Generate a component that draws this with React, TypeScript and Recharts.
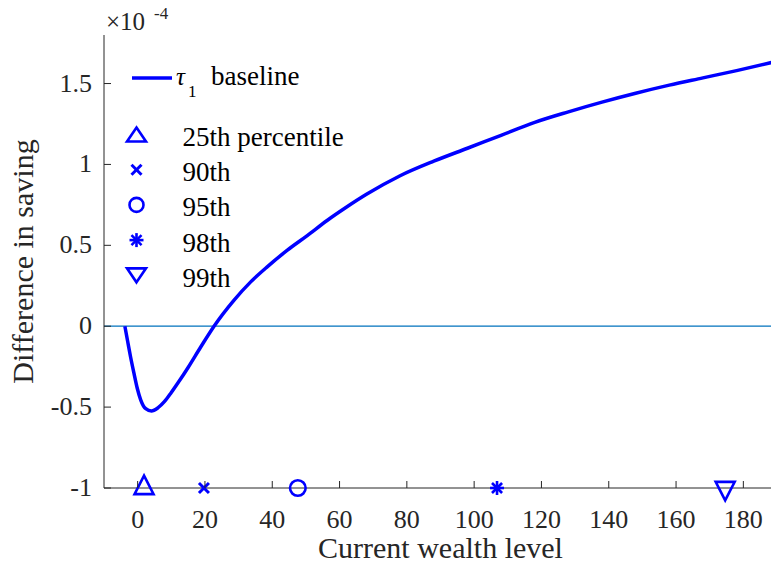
import React from 'react';
import { ComposedChart, Line, Scatter, XAxis, YAxis, ReferenceLine, Legend } from 'recharts';

// difference in saving, in units of 1e-4
const wealth = [-3.8, -3, -2.1, -1.1, -0.1, 0.9, 2.4, 4.1, 6, 8, 10, 12, 15, 18.7, 22.7, 28.6, 33.6, 38.5, 44.5, 50.4, 56.4, 62, 68, 78, 88, 98, 108, 118, 128, 138, 148, 158, 168, 178, 190];
const savingDiff = [0, -0.09, -0.19, -0.29, -0.385, -0.455, -0.51, -0.524, -0.505, -0.465, -0.41, -0.35, -0.255, -0.13, 0, 0.16, 0.274, 0.367, 0.47, 0.56, 0.655, 0.735, 0.815, 0.93, 1.02, 1.1, 1.18, 1.26, 1.325, 1.385, 1.44, 1.49, 1.535, 1.58, 1.638];

const percentileLabels = ['25th percentile', '90th', '95th', '98th', '99th'];
const percentileWealth = [1.9, 19.7, 47.6, 106.8, 174.6];
const percentileMarkers = ['triangle', 'cross', 'circle', 'asterisk', 'triangleDown'];
const markerLevel = -1;

const xTicks = [0, 20, 40, 60, 80, 100, 120, 140, 160, 180];
const yTicks = [-1, -0.5, 0, 0.5, 1, 1.5];

const curveData = wealth.map((x, i) => ({ x, y: savingDiff[i] }));

const BLUE = '#0000FF';
const AXIS = '#262626';
const FONT = 'Liberation Serif';
const TICK_LEN = 7;

// serif text, font set both as attribute and inline style
const serif = (size: number) => ({
  fontFamily: FONT,
  fontSize: size,
  style: { fontFamily: '"Liberation Serif", "Times New Roman", serif', fontSize: `${size}px` },
});

const drawMarker = (kind: string, cx: number, cy: number, small = false) => {
  const sw = 2.6;
  const hw = 9.5;
  const h = small ? 14 : 18.5;
  switch (kind) {
    case 'triangle':
      return (
        <polygon
          points={`${cx},${cy - (2 * h) / 3} ${cx + hw},${cy + h / 3} ${cx - hw},${cy + h / 3}`}
          fill="none" stroke={BLUE} strokeWidth={sw}
        />
      );
    case 'triangleDown':
      return (
        <polygon
          points={`${cx},${cy + (2 * h) / 3} ${cx + hw},${cy - h / 3} ${cx - hw},${cy - h / 3}`}
          fill="none" stroke={BLUE} strokeWidth={sw}
        />
      );
    case 'circle':
      return <circle cx={cx} cy={cy} r={small ? 7 : 7.8} fill="none" stroke={BLUE} strokeWidth={sw} />;
    case 'cross': {
      const a = 5;
      return (
        <g stroke={BLUE} strokeWidth={3}>
          <line x1={cx - a} y1={cy - a} x2={cx + a} y2={cy + a} />
          <line x1={cx - a} y1={cy + a} x2={cx + a} y2={cy - a} />
        </g>
      );
    }
    default: {
      const r = 7;
      const d = r * 0.72;
      return (
        <g stroke={BLUE} strokeWidth={2.6}>
          <line x1={cx} y1={cy - r} x2={cx} y2={cy + r} />
          <line x1={cx - r} y1={cy} x2={cx + r} y2={cy} />
          <line x1={cx - d} y1={cy - d} x2={cx + d} y2={cy + d} />
          <line x1={cx - d} y1={cy + d} x2={cx + d} y2={cy - d} />
        </g>
      );
    }
  }
};

const BottomTick = ({ x, y, payload }: any) => (
  <g>
    <line x1={x} x2={x} y1={y} y2={y - TICK_LEN} stroke={AXIS} />
    <text x={x} y={y + 40} textAnchor="middle" fill={AXIS} {...serif(26)}>
      {payload.value}
    </text>
  </g>
);

const TopTick = ({ x, y }: any) => <line x1={x} x2={x} y1={y} y2={y + TICK_LEN} stroke={AXIS} />;

const LeftTick = ({ x, y, payload }: any) => (
  <g>
    <line x1={x} x2={x + TICK_LEN} y1={y} y2={y} stroke={AXIS} />
    <text x={x - 12} y={y + 8} textAnchor="end" fill={AXIS} {...serif(26)}>
      {String(payload.value)}
    </text>
  </g>
);

const RightTick = ({ x, y }: any) => <line x1={x - TICK_LEN} x2={x} y1={y} y2={y} stroke={AXIS} />;

const YLabel = ({ viewBox }: any) => {
  const cy = viewBox.y + viewBox.height / 2;
  return (
    <g>
      <text x={33} y={cy} transform={`rotate(-90, 33, ${cy})`} textAnchor="middle" fill={AXIS} {...serif(30)}>
        Difference in saving
      </text>
      <text x={106} y={30} fill={AXIS} {...serif(25)}>×10</text>
      <text x={154} y={19} fill={AXIS} {...serif(17)}>-4</text>
    </g>
  );
};

const XLabel = ({ viewBox }: any) => (
  <text x={viewBox.x + viewBox.width / 2} y={558} textAnchor="middle" fill={AXIS} {...serif(30)}>
    Current wealth level
  </text>
);

const renderLegend = () => (
  <svg width={400} height={300}>
    <line x1={132} x2={172} y1={78} y2={78} stroke={BLUE} strokeWidth={3.5} />
    <text x={176} y={85} fill="#000" fontStyle="italic" {...serif(25)}>τ</text>
    <text x={188} y={97} fill="#000" {...serif(17)}>1</text>
    <text x={211} y={85} fill="#000" {...serif(27)}>baseline</text>
    {percentileLabels.map((label, i) => {
      const kind = percentileMarkers[i];
      const rowY = 134.5 + 35.2 * i;
      const my = kind === 'triangle' ? rowY + 2.3 : kind === 'triangleDown' ? rowY - 2.3 : rowY;
      return (
        <g key={label}>
          {drawMarker(kind, 136.5, my, true)}
          <text x={182.5} y={rowY + 11.5} fill="#000" {...serif(27)}>
            {label}
          </text>
        </g>
      );
    })}
  </svg>
);

export default function App() {
  return (
    <div style={{ position: 'absolute', left: 0, top: 0, width: 771, height: 565, overflow: 'hidden', background: '#fff', fontFamily: FONT }}>
      <ComposedChart width={800} height={565} margin={{ top: 35, right: 23, bottom: 0, left: 0 }}>
        <XAxis
          dataKey="x" type="number" domain={[-10, 190]} ticks={xTicks} height={77}
          tickSize={0} tickMargin={0} tickLine={false} axisLine={{ stroke: AXIS }}
          tick={<BottomTick />} label={XLabel} interval={0}
        />
        <XAxis
          xAxisId="top" orientation="top" type="number" domain={[-10, 190]} ticks={xTicks} height={0}
          tickSize={0} tickMargin={0} tickLine={false} axisLine={{ stroke: AXIS }} tick={<TopTick />} interval={0}
        />
        <YAxis
          dataKey="y" type="number" domain={[-1, 1.8]} ticks={yTicks} width={104}
          tickSize={0} tickMargin={0} tickLine={false} axisLine={{ stroke: AXIS }}
          tick={<LeftTick />} label={YLabel} interval={0}
        />
        <YAxis
          yAxisId="right" orientation="right" type="number" domain={[-1, 1.8]} ticks={yTicks} width={0}
          tickSize={0} tickMargin={0} tickLine={false} axisLine={{ stroke: AXIS }} tick={<RightTick />} interval={0}
        />
        <ReferenceLine y={0} stroke="#0072BD" strokeWidth={1.3} />
        <Line
          data={curveData} dataKey="y" type="monotone" stroke={BLUE} strokeWidth={3.5}
          dot={false} isAnimationActive={false} name="baseline"
        />
        {percentileWealth.map((w, i) => (
          <Scatter
            key={percentileLabels[i]}
            name={percentileLabels[i]}
            data={[{ x: w, y: markerLevel }]}
            dataKey="y"
            isAnimationActive={false}
            shape={(p: any) => drawMarker(percentileMarkers[i], p.cx, p.cy)}
          />
        ))}
        <Legend
          layout="vertical" align="center" verticalAlign="middle"
          wrapperStyle={{ left: 0, top: 0, width: 400, height: 300 }}
          content={renderLegend}
        />
      </ComposedChart>
    </div>
  );
}
